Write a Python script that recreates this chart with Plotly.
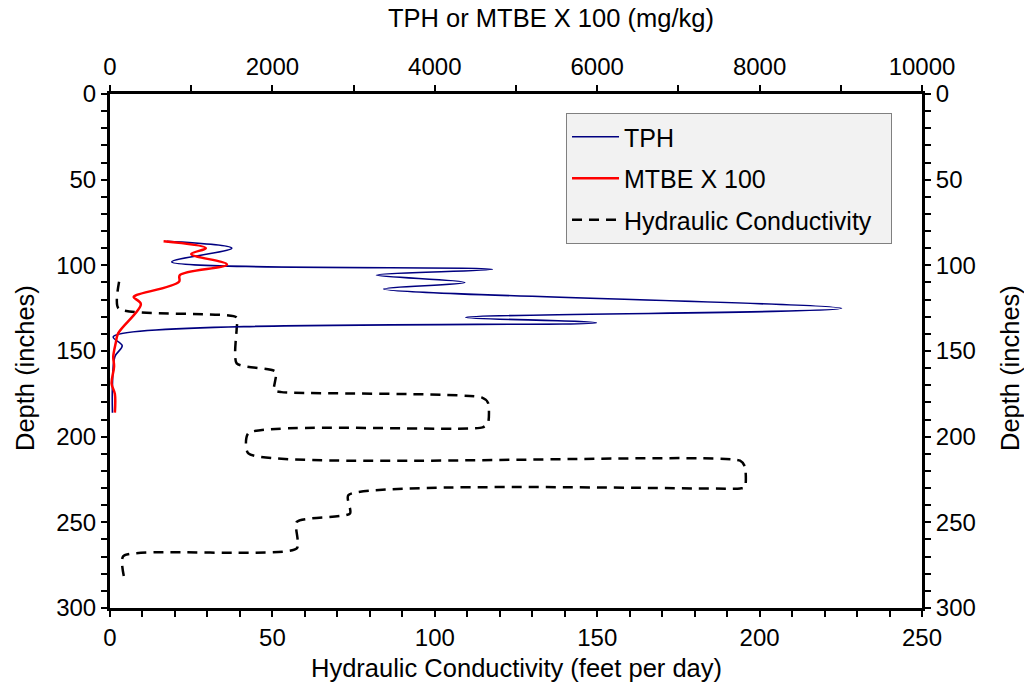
import plotly.graph_objects as go

# TPH (mg/kg) vs depth (inches)
tph_depth = [86, 90, 98, 102.3, 105.7, 110, 113.8, 125.1, 130.4, 133.5, 141.7, 146.9, 153.3, 170, 186]
tph_value = [700, 1500, 760, 4710, 3280, 4370, 3370, 9010, 4380, 5990, 40, 150, 60, 30, 30]

# MTBE x 100 (mg/kg) vs depth (inches)
mtbe_depth = [86, 90, 93.4, 99.5, 105.7, 109.6, 117.3, 118.5, 122.6, 139.7, 145.5, 153.3, 159, 169, 175, 186]
mtbe_value = [660, 1180, 1000, 1440, 860, 850, 330, 290, 380, 100, 70, 40, 50, 20, 60, 60]

# Hydraulic conductivity (feet per day) vs depth (inches)
hc_depth = [109.6, 125.1, 130.4, 136.8, 157.2, 162.1, 172.8, 174, 177.1, 180.3, 192, 194.6, 198, 209.8,
            214, 217.6, 229.6, 230.2, 234.1, 244.8, 249.7, 265.2, 269.7, 281.8]
hc_value = [2.8, 2.6, 39, 39, 39, 51, 50.5, 52.8, 114.4, 116.4, 116.4, 114.7, 42.6, 42.6,
            194, 195.5, 195.5, 194, 73.4, 73.9, 57.5, 57.5, 4.1, 4.3]

FONT = "Liberation Sans, Arial, sans-serif"
FS_TICK = 24
FS_TITLE = 25.5
FS_LEG = 25
PAD = "\u00a0" * 2

fig = go.Figure()
fig.add_trace(go.Scatter(x=tph_value, y=tph_depth, name="TPH", mode="lines",
                         line=dict(color="#000080", width=1.6, shape="spline", smoothing=1),
                         xaxis="x2", yaxis="y2", legendgroup="a"))
fig.add_trace(go.Scatter(x=mtbe_value, y=mtbe_depth, name="MTBE X 100", mode="lines",
                         line=dict(color="#ff0000", width=2.5, shape="spline", smoothing=1),
                         xaxis="x2", yaxis="y2", legendgroup="b"))
fig.add_trace(go.Scatter(x=hc_value, y=hc_depth, name="Hydraulic Conductivity" + PAD, mode="lines",
                         line=dict(color="black", width=2.5, dash="10px,7px", shape="spline", smoothing=0.6),
                         xaxis="x", yaxis="y", legendgroup="c"))

common = dict(showline=True, linecolor="black", linewidth=3, ticks="outside", ticklen=6,
              tickwidth=2, tickcolor="black", showgrid=False, zeroline=False, automargin=False,
              tickformat="d", tickfont=dict(family=FONT, size=FS_TICK, color="black"))
minor10 = dict(dtick=10, ticks="outside", ticklen=6, tickwidth=2, tickcolor="black")

fig.update_layout(
    width=1024, height=686,
    paper_bgcolor="white", plot_bgcolor="white",
    margin=dict(l=110, r=102, t=94, b=78),
    font=dict(family=FONT, size=FS_TICK, color="black"),
    xaxis=dict(range=[0, 250], dtick=50, side="bottom", minor=minor10, **common),
    xaxis2=dict(range=[0, 10000], dtick=2000, side="top", overlaying="x",
                minor=dict(dtick=1000, ticks="outside", ticklen=6, tickwidth=2, tickcolor="black"),
                **common),
    yaxis=dict(range=[300, 0], dtick=50, side="left", minor=minor10, **common),
    yaxis2=dict(range=[300, 0], dtick=50, side="right", overlaying="y", minor=minor10, **common),
    legend=dict(x=0.5616, y=0.963, xanchor="left", yanchor="top",
                bgcolor="#f2f2f2", bordercolor="#808080", borderwidth=1,
                font=dict(family=FONT, size=FS_LEG, color="black"),
                tracegroupgap=6, traceorder="grouped", itemwidth=47),
    showlegend=True,
)

tf = dict(family=FONT, size=FS_TITLE, color="black")
fig.add_annotation(text="TPH or MTBE X 100 (mg/kg)", xref="paper", yref="paper",
                   x=0.5, y=1, xshift=35, yshift=76, xanchor="center", yanchor="middle",
                   showarrow=False, font=tf)
fig.add_annotation(text="Hydraulic Conductivity (feet per day)", xref="paper", yref="paper",
                   x=0.5, y=0, yshift=-60, xanchor="center", yanchor="middle", showarrow=False, font=tf)
fig.add_annotation(text="Depth (inches)", xref="paper", yref="paper", textangle=-90,
                   x=0, y=0.5, xshift=-85, yshift=-17, xanchor="center", yanchor="middle",
                   showarrow=False, font=tf)
fig.add_annotation(text="Depth (inches)", xref="paper", yref="paper", textangle=-90,
                   x=1, y=0.5, xshift=88, yshift=-17, xanchor="center", yanchor="middle",
                   showarrow=False, font=tf)

fig.write_html("out.html", config={"displayModeBar": False},
               post_script="document.body.style.margin='0px';document.body.style.overflow='hidden';")
